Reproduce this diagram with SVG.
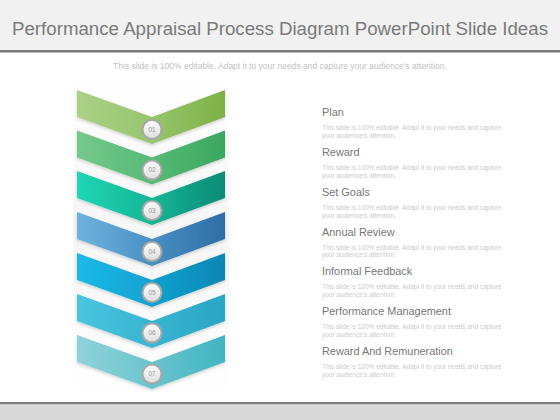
<svg xmlns="http://www.w3.org/2000/svg" width="560" height="420" viewBox="0 0 560 420">
<defs>
<style>
.title{font-family:"Liberation Sans",Arial,sans-serif;font-size:18.7px;fill:#7a7a7a}
.sub{font-family:"Liberation Sans",Arial,sans-serif;font-size:8.5px;fill:#c2c2c2}
.lbl{font-family:"Liberation Sans",Arial,sans-serif;font-size:10.9px;fill:#777}
.desc{font-family:"Liberation Sans",Arial,sans-serif;font-size:6.5px;fill:#cbcbcb}
.num{font-family:"Liberation Sans",Arial,sans-serif;font-size:6.5px;fill:#999;text-anchor:middle}
.ring{fill:url(#gc);stroke:#a8a8a8;stroke-width:2}
</style>
<linearGradient id="gc" x1="0" y1="0" x2="0" y2="1"><stop offset="0" stop-color="#fdfdfd"/><stop offset="1" stop-color="#dedede"/></linearGradient>
<linearGradient id="bg" x1="0" y1="0" x2="0" y2="1"><stop offset="0" stop-color="#ffffff"/><stop offset="0.5" stop-color="#f6f6f6"/><stop offset="1" stop-color="#ffffff"/></linearGradient>
<linearGradient id="g1" x1="0" x2="1"><stop offset="0" stop-color="#abd186"/><stop offset="0.5" stop-color="#98c56e"/><stop offset="1" stop-color="#7db146"/></linearGradient>
<linearGradient id="g2" x1="0" x2="1"><stop offset="0" stop-color="#74c98c"/><stop offset="0.5" stop-color="#58ba76"/><stop offset="1" stop-color="#3aa75f"/></linearGradient>
<linearGradient id="g3" x1="0" x2="1"><stop offset="0" stop-color="#20d6b4"/><stop offset="0.5" stop-color="#14b696"/><stop offset="1" stop-color="#0d8b76"/></linearGradient>
<linearGradient id="g4" x1="0" x2="1"><stop offset="0" stop-color="#6fb3de"/><stop offset="0.5" stop-color="#4a90c4"/><stop offset="1" stop-color="#2c6ea5"/></linearGradient>
<linearGradient id="g5" x1="0" x2="1"><stop offset="0" stop-color="#1cb9e8"/><stop offset="0.5" stop-color="#12a2d0"/><stop offset="1" stop-color="#0b86b3"/></linearGradient>
<linearGradient id="g6" x1="0" x2="1"><stop offset="0" stop-color="#4ac4df"/><stop offset="0.5" stop-color="#38b5d2"/><stop offset="1" stop-color="#29a6c3"/></linearGradient>
<linearGradient id="g7" x1="0" x2="1"><stop offset="0" stop-color="#90d3da"/><stop offset="0.5" stop-color="#6ac4cd"/><stop offset="1" stop-color="#40b5c1"/></linearGradient>
<filter id="sh" x="-10%" y="-20%" width="120%" height="160%"><feDropShadow dx="0" dy="1.5" stdDeviation="1.5" flood-color="#000" flood-opacity="0.18"/></filter>
</defs>
<rect width="560" height="420" fill="#ffffff"/>
<rect x="73" y="72" width="156" height="328" fill="url(#bg)"/>
<rect x="0" y="0" width="560" height="50" fill="#f1f1f1"/>
<rect x="0" y="50" width="560" height="2.5" fill="#7b7b7b"/>
<text class="title" x="280" y="35" text-anchor="middle">Performance Appraisal Process Diagram PowerPoint Slide Ideas</text>
<text class="sub" x="280" y="68.5" text-anchor="middle">This slide is 100% editable.  Adapt it to your needs and capture your audience's attention.</text>
<rect x="0" y="402" width="560" height="2.5" fill="#7b7b7b"/>
<rect x="0" y="404.5" width="560" height="15.5" fill="#d9d9d9"/>
<g id="chevrons">
<g id="step7"><path d="M77,335 L152,362 L225,335 L225,362 L152,389 L77,362 Z" fill="url(#g7)" filter="url(#sh)"/><circle class="ring" cx="152" cy="374" r="9.5"/><text class="num" x="152" y="376.3">07</text></g>
<g id="step6"><path d="M77,294 L152,321 L225,294 L225,321 L152,348 L77,321 Z" fill="url(#g6)" filter="url(#sh)"/><circle class="ring" cx="152" cy="333" r="9.5"/><text class="num" x="152" y="335.3">06</text></g>
<g id="step5"><path d="M77,253 L152,280 L225,253 L225,280 L152,307 L77,280 Z" fill="url(#g5)" filter="url(#sh)"/><circle class="ring" cx="152" cy="292.5" r="9.5"/><text class="num" x="152" y="294.8">05</text></g>
<g id="step4"><path d="M77,212 L152,239 L225,212 L225,239 L152,266 L77,239 Z" fill="url(#g4)" filter="url(#sh)"/><circle class="ring" cx="152" cy="251.5" r="9.5"/><text class="num" x="152" y="253.8">04</text></g>
<g id="step3"><path d="M77,171 L152,198 L225,171 L225,198 L152,225 L77,198 Z" fill="url(#g3)" filter="url(#sh)"/><circle class="ring" cx="152" cy="210.5" r="9.5"/><text class="num" x="152" y="212.8">03</text></g>
<g id="step2"><path d="M77,130.5 L152,157.5 L225,130.5 L225,157.5 L152,184.5 L77,157.5 Z" fill="url(#g2)" filter="url(#sh)"/><circle class="ring" cx="152" cy="170" r="9.5"/><text class="num" x="152" y="172.3">02</text></g>
<g id="step1"><path d="M77,90 L152,117 L225,90 L225,117 L152,144 L77,117 Z" fill="url(#g1)" filter="url(#sh)"/><circle class="ring" cx="152" cy="129.5" r="9.5"/><text class="num" x="152" y="131.8">01</text></g>
</g>
<g id="labels">
<g id="label1"><text class="lbl" x="322" y="116">Plan</text><text class="desc" x="322" y="130">This slide is 100% editable.  Adapt it to your needs and capture</text><text class="desc" x="322" y="137.5">your audience's attention.</text></g>
<g id="label2"><text class="lbl" x="322" y="156">Reward</text><text class="desc" x="322" y="170">This slide is 100% editable.  Adapt it to your needs and capture</text><text class="desc" x="322" y="177.5">your audience's attention.</text></g>
<g id="label3"><text class="lbl" x="322" y="196">Set Goals</text><text class="desc" x="322" y="210">This slide is 100% editable.  Adapt it to your needs and capture</text><text class="desc" x="322" y="217.5">your audience's attention.</text></g>
<g id="label4"><text class="lbl" x="322" y="235.5">Annual Review</text><text class="desc" x="322" y="249.5">This slide is 100% editable.  Adapt it to your needs and capture</text><text class="desc" x="322" y="257">your audience's attention.</text></g>
<g id="label5"><text class="lbl" x="322" y="275">Informal Feedback</text><text class="desc" x="322" y="289">This slide is 100% editable.  Adapt it to your needs and capture</text><text class="desc" x="322" y="296.5">your audience's attention.</text></g>
<g id="label6"><text class="lbl" x="322" y="315">Performance Management</text><text class="desc" x="322" y="329">This slide is 100% editable.  Adapt it to your needs and capture</text><text class="desc" x="322" y="336.5">your audience's attention.</text></g>
<g id="label7"><text class="lbl" x="322" y="355">Reward And Remuneration</text><text class="desc" x="322" y="369">This slide is 100% editable.  Adapt it to your needs and capture</text><text class="desc" x="322" y="376.5">your audience's attention.</text></g>
</g>
</svg>
